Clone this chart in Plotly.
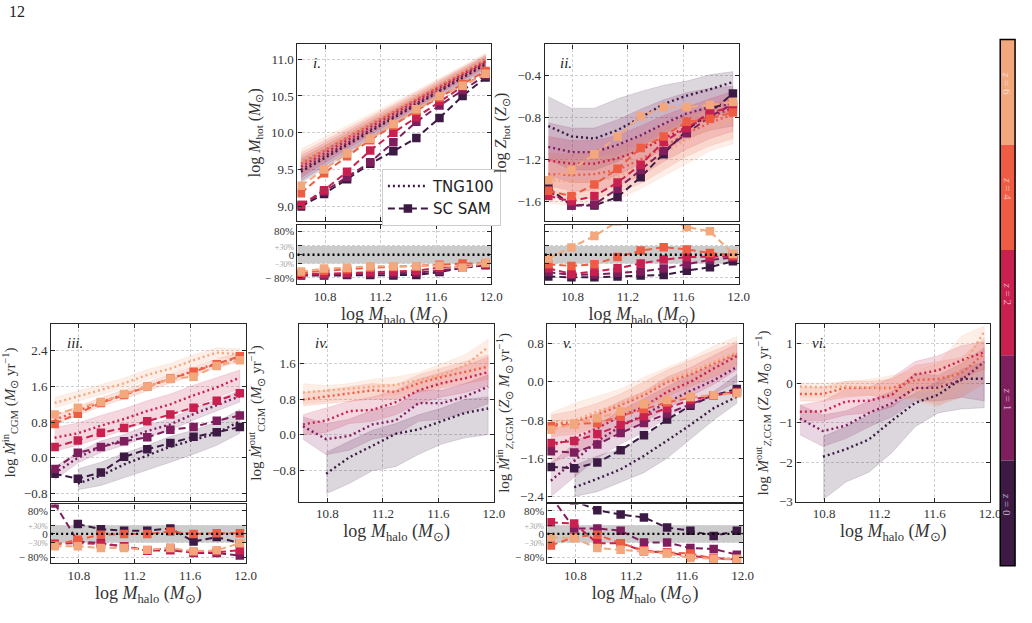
import plotly.graph_objects as go

# ---------------- data ----------------
REDSHIFTS = [0, 1, 2, 4, 6]
COLORS = {0: "#3d1a44", 1: "#7f1e5c", 2: "#c8204f", 4: "#ee5c43", 6: "#f3a77d"}
LOG_MHALO = [10.625, 10.792, 10.958, 11.125, 11.292, 11.458, 11.625, 11.792, 11.958]
X_TICKS = [10.8, 11.2, 11.6, 12.0]
RATIO_TICKS = [-0.8, -0.3, 0.0, 0.3, 0.8]

# panel i : log M_hot
MHOT_TNG = {
    0: [9.47, 9.65, 9.83, 10.01, 10.20, 10.38, 10.56, 10.75, 10.93],
    1: [9.50, 9.68, 9.86, 10.04, 10.22, 10.40, 10.58, 10.77, 10.95],
    2: [9.54, 9.72, 9.90, 10.08, 10.25, 10.43, 10.61, 10.79, 10.97],
    4: [9.58, 9.76, 9.93, 10.11, 10.28, 10.46, 10.63, 10.81, 10.98],
    6: [9.62, 9.80, 9.97, 10.14, 10.31, 10.48, 10.65, 10.83, 11.00]}
MHOT_LO = {
    0: [9.32, 9.52, 9.71, 9.90, 10.10, 10.29, 10.48, 10.67, 10.85],
    1: [9.35, 9.55, 9.74, 9.93, 10.12, 10.31, 10.50, 10.69, 10.87],
    2: [9.39, 9.59, 9.78, 9.97, 10.15, 10.34, 10.53, 10.71, 10.89],
    4: [9.43, 9.63, 9.81, 10.00, 10.18, 10.37, 10.55, 10.73, 10.90],
    6: [9.47, 9.67, 9.85, 10.03, 10.21, 10.39, 10.57, 10.75, 10.92]}
MHOT_HI = {
    0: [9.62, 9.78, 9.95, 10.12, 10.30, 10.47, 10.65, 10.83, 11.01],
    1: [9.65, 9.81, 9.98, 10.15, 10.32, 10.49, 10.67, 10.85, 11.03],
    2: [9.69, 9.85, 10.02, 10.19, 10.35, 10.52, 10.70, 10.87, 11.05],
    4: [9.73, 9.89, 10.05, 10.22, 10.38, 10.55, 10.72, 10.89, 11.06],
    6: [9.78, 9.93, 10.09, 10.25, 10.41, 10.57, 10.74, 10.91, 11.08]}
MHOT_SAM = {
    0: [9.00, 9.17, 9.37, 9.58, 9.75, 9.93, 10.20, 10.50, 10.75],
    1: [9.02, 9.20, 9.40, 9.60, 9.87, 10.15, 10.37, 10.58, 10.78],
    2: [9.02, 9.22, 9.47, 9.76, 10.00, 10.21, 10.43, 10.63, 10.82],
    4: [9.18, 9.45, 9.68, 9.90, 10.10, 10.30, 10.48, 10.66, 10.84],
    6: [9.28, 9.50, 9.72, 9.92, 10.12, 10.32, 10.50, 10.64, 10.80]}
MHOT_RATIO = {
    0: [-0.72, -0.72, -0.70, -0.70, -0.72, -0.70, -0.60, -0.45, -0.36],
    1: [-0.70, -0.70, -0.67, -0.65, -0.65, -0.62, -0.55, -0.45, -0.35],
    2: [-0.68, -0.66, -0.62, -0.60, -0.58, -0.55, -0.45, -0.40, -0.33],
    4: [-0.62, -0.55, -0.50, -0.45, -0.42, -0.40, -0.35, -0.30, -0.30],
    6: [-0.58, -0.48, -0.45, -0.40, -0.40, -0.40, -0.38, -0.45, -0.28]}

# panel ii : log Z_hot
ZHOT_TNG = {
    0: [-0.88, -0.98, -1.00, -0.92, -0.80, -0.67, -0.59, -0.53, -0.46],
    1: [-1.08, -1.13, -1.13, -1.06, -0.97, -0.86, -0.76, -0.70, -0.67],
    2: [-1.21, -1.24, -1.24, -1.19, -1.11, -1.00, -0.89, -0.79, -0.71],
    4: [-1.34, -1.35, -1.34, -1.30, -1.20, -1.08, -0.95, -0.85, -0.77],
    6: [-1.40, -1.41, -1.40, -1.37, -1.26, -1.14, -1.01, -0.90, -0.82]}
ZHOT_LO = {
    0: [-1.20, -1.30, -1.30, -1.22, -1.08, -0.95, -0.86, -0.80, -0.74],
    1: [-1.35, -1.42, -1.42, -1.35, -1.24, -1.10, -1.00, -0.92, -0.88],
    2: [-1.45, -1.50, -1.50, -1.45, -1.36, -1.22, -1.10, -1.00, -0.93],
    4: [-1.55, -1.58, -1.57, -1.52, -1.43, -1.30, -1.17, -1.07, -1.00],
    6: [-1.62, -1.64, -1.62, -1.58, -1.48, -1.36, -1.24, -1.12, -1.05]}
ZHOT_HI = {
    0: [-0.60, -0.71, -0.71, -0.62, -0.55, -0.49, -0.45, -0.39, -0.36],
    1: [-0.85, -0.90, -0.90, -0.82, -0.72, -0.63, -0.56, -0.52, -0.50],
    2: [-0.98, -1.02, -1.02, -0.97, -0.88, -0.78, -0.70, -0.62, -0.55],
    4: [-1.14, -1.15, -1.13, -1.08, -0.99, -0.88, -0.77, -0.68, -0.60],
    6: [-1.20, -1.20, -1.18, -1.16, -1.06, -0.94, -0.82, -0.72, -0.65]}
ZHOT_SAM = {
    0: [-1.47, -1.64, -1.64, -1.56, -1.37, -1.15, -0.92, -0.75, -0.57],
    1: [-1.50, -1.64, -1.63, -1.48, -1.30, -1.12, -0.95, -0.79, -0.67],
    2: [-1.55, -1.60, -1.55, -1.42, -1.25, -1.03, -0.90, -0.75, -0.70],
    4: [-1.50, -1.55, -1.44, -1.29, -1.09, -0.98, -0.84, -0.81, -0.75],
    6: [-1.40, -1.30, -1.15, -0.98, -0.79, -0.70, -0.70, -0.68, -0.65]}
ZHOT_RATIO = {
    0: [-0.75, -0.78, -0.78, -0.75, -0.72, -0.70, -0.55, -0.43, -0.23],
    1: [-0.60, -0.70, -0.68, -0.62, -0.58, -0.48, -0.33, -0.18, -0.10],
    2: [-0.47, -0.66, -0.58, -0.47, -0.30, -0.17, -0.08, -0.08, -0.06],
    4: [-0.33, -0.39, -0.33, -0.08, 0.14, 0.26, 0.18, 0.06, -0.02],
    6: [-0.13, 0.25, 0.64, 1.15, 1.40, 1.30, 0.95, 0.81, 0.03]}

# panel iii : log Mdot_in CGM
MIN_TNG = {
    0: [None, -0.58, -0.40, -0.15, 0.05, 0.25, 0.40, 0.55, 0.82],
    1: [-0.35, 0.00, 0.25, 0.40, 0.60, 0.75, 0.98, 1.18, 1.38],
    2: [0.45, 0.55, 0.72, 0.87, 1.05, 1.20, 1.40, 1.58, 1.80],
    4: [0.85, 1.05, 1.25, 1.42, 1.60, 1.78, 1.95, 2.12, 2.25],
    6: [1.23, 1.38, 1.52, 1.67, 1.86, 2.00, 2.19, 2.36, 2.32]}
MIN_LO = {
    0: [None, -0.72, -0.62, -0.45, -0.28, -0.10, 0.08, 0.28, 0.55],
    1: [-0.50, -0.12, 0.12, 0.28, 0.47, 0.62, 0.85, 1.05, 1.25],
    2: [0.15, 0.28, 0.45, 0.62, 0.80, 0.95, 1.15, 1.35, 1.55],
    4: [0.75, 0.95, 1.15, 1.32, 1.50, 1.68, 1.85, 2.02, 2.15],
    6: [1.12, 1.27, 1.41, 1.56, 1.75, 1.89, 2.08, 2.25, 2.21]}
MIN_HI = {
    0: [None, -0.25, -0.10, 0.10, 0.28, 0.48, 0.62, 0.80, 1.08],
    1: [-0.20, 0.12, 0.38, 0.52, 0.73, 0.88, 1.11, 1.31, 1.51],
    2: [0.68, 0.78, 0.95, 1.10, 1.28, 1.43, 1.63, 1.80, 1.97],
    4: [0.95, 1.15, 1.35, 1.52, 1.70, 1.88, 2.05, 2.22, 2.35],
    6: [1.35, 1.50, 1.64, 1.79, 1.98, 2.12, 2.31, 2.47, 2.45]}
MIN_SAM = {
    0: [-0.36, -0.47, -0.33, 0.02, 0.19, 0.33, 0.47, 0.57, 0.69],
    1: [-0.25, 0.11, 0.24, 0.37, 0.46, 0.63, 0.69, 0.83, 0.95],
    2: [0.24, 0.39, 0.56, 0.67, 0.82, 0.97, 1.12, 1.28, 1.45],
    4: [0.76, 0.99, 1.23, 1.41, 1.60, 1.78, 1.93, 2.10, 2.28],
    6: [0.97, 1.12, 1.25, 1.43, 1.60, 1.77, 1.82, 2.06, 2.19]}
MIN_RATIO = {
    0: [None, 0.34, 0.16, 0.11, 0.11, 0.19, -0.26, -0.11, -0.32],
    1: [1.05, -0.26, -0.32, -0.43, -0.57, -0.49, -0.66, -0.66, -0.75],
    2: [-0.34, -0.32, -0.35, -0.43, -0.58, -0.57, -0.64, -0.63, -0.57],
    4: [-0.38, -0.20, -0.03, 0.00, 0.00, 0.08, 0.00, 0.02, 0.02],
    6: [-0.43, -0.43, -0.49, -0.49, -0.55, -0.49, -0.60, -0.57, -0.32]}

# panel iv : log Mdot_out CGM
MOUT_TNG = {
    0: [None, -0.88, -0.51, -0.25, 0.02, 0.12, 0.30, 0.49, 0.59],
    1: [0.19, -0.10, -0.03, 0.23, 0.32, 0.71, 0.71, 0.86, 1.08],
    2: [0.23, 0.32, 0.53, 0.56, 0.73, 1.00, 1.16, 1.27, 1.41],
    4: [0.79, 0.86, 0.93, 1.00, 0.96, 1.16, 1.30, 1.41, 1.53],
    6: [0.95, 0.99, 1.03, 1.08, 1.12, 1.23, 1.34, 1.56, 1.97]}
MOUT_LO = {
    0: [None, -1.33, -1.10, -0.81, -0.72, -0.44, -0.21, -0.07, 0.00],
    1: [-0.10, -0.45, -0.35, -0.10, 0.00, 0.30, 0.35, 0.50, 0.70],
    2: [0.00, 0.05, 0.25, 0.30, 0.45, 0.70, 0.85, 0.95, 1.10],
    4: [0.65, 0.70, 0.75, 0.80, 0.80, 0.95, 1.05, 1.15, 1.25],
    6: [0.70, 0.75, 0.80, 0.85, 0.90, 1.00, 1.10, 1.30, 1.55]}
MOUT_HI = {
    0: [None, -0.40, -0.15, 0.10, 0.25, 0.45, 0.60, 0.80, 0.85],
    1: [0.40, 0.25, 0.35, 0.55, 0.65, 1.00, 1.00, 1.15, 1.35],
    2: [0.45, 0.60, 0.75, 0.85, 1.00, 1.25, 1.40, 1.55, 1.75],
    4: [0.95, 1.00, 1.08, 1.15, 1.12, 1.35, 1.50, 1.65, 1.80],
    6: [1.15, 1.10, 1.15, 1.25, 1.30, 1.40, 1.60, 1.80, 2.15]}

# panel v : log Mdot_in Z,CGM
ZIN_TNG = {
    0: [None, -2.21, -2.03, -1.83, -1.55, -1.23, -0.90, -0.55, -0.31],
    1: [-2.07, -1.66, -1.24, -0.93, -0.69, -0.43, -0.19, 0.03, 0.31],
    2: [-1.34, -1.17, -0.97, -0.72, -0.52, -0.21, 0.00, 0.28, 0.54],
    4: [-0.90, -0.83, -0.69, -0.48, -0.28, 0.00, 0.15, 0.38, 0.59],
    6: [-0.83, -0.81, -0.62, -0.45, -0.24, 0.03, 0.21, 0.41, 0.62]}
ZIN_LO = {
    0: [None, -2.40, -2.30, -2.10, -1.90, -1.60, -1.20, -0.80, -0.45],
    1: [-2.40, -2.00, -1.60, -1.30, -1.05, -0.75, -0.50, -0.25, 0.00],
    2: [-1.70, -1.50, -1.30, -1.05, -0.85, -0.55, -0.30, -0.05, 0.25],
    4: [-1.15, -1.10, -0.95, -0.75, -0.55, -0.30, -0.10, 0.10, 0.35],
    6: [-1.05, -1.05, -0.90, -0.70, -0.50, -0.25, -0.05, 0.15, 0.40]}
ZIN_HI = {
    0: [None, -1.75, -1.55, -1.40, -1.15, -0.80, -0.55, -0.20, 0.15],
    1: [-1.70, -1.30, -0.90, -0.60, -0.35, -0.10, 0.15, 0.35, 0.60],
    2: [-1.00, -0.85, -0.65, -0.40, -0.20, 0.10, 0.30, 0.55, 0.80],
    4: [-0.70, -0.60, -0.45, -0.25, 0.00, 0.25, 0.45, 0.65, 0.85],
    6: [-0.65, -0.45, -0.30, -0.15, 0.10, 0.30, 0.50, 0.75, 0.95]}
ZIN_SAM = {
    0: [-1.78, -1.81, -1.69, -1.43, -1.12, -0.79, -0.50, -0.28, -0.15],
    1: [-1.45, -1.48, -1.31, -1.07, -0.86, -0.66, -0.47, -0.28, -0.21],
    2: [-1.28, -1.24, -1.09, -0.90, -0.72, -0.55, -0.38, -0.28, -0.21],
    4: [-0.93, -0.88, -0.86, -0.72, -0.57, -0.43, -0.33, -0.28, -0.22],
    6: [-1.00, -0.88, -0.76, -0.62, -0.47, -0.38, -0.31, -0.28, -0.24]}
ZIN_RATIO = {
    0: [1.40, 1.15, 0.82, 0.67, 0.57, 0.22, 0.11, -0.07, 0.11],
    1: [1.30, 0.19, 0.19, 0.11, -0.30, -0.30, -0.49, -0.52, -0.72],
    2: [0.40, 0.36, -0.32, -0.32, -0.60, -0.64, -0.77, -0.83, -0.89],
    4: [-0.40, -0.11, -0.03, -0.32, -0.57, -0.64, -0.68, -0.85, -0.89],
    6: [-0.11, -0.15, -0.49, -0.55, -0.60, -0.68, -0.83, -0.86, -0.86]}

# panel vi : log Mdot_out Z,CGM
ZOUT_TNG = {
    0: [None, -1.86, -1.67, -1.42, -0.94, -0.50, -0.29, 0.11, 0.12],
    1: [-0.89, -1.21, -1.07, -0.75, -0.50, -0.12, -0.11, 0.08, 0.54],
    2: [-0.72, -0.71, -0.46, -0.44, -0.29, 0.22, 0.33, 0.58, 0.79],
    4: [-0.27, -0.27, -0.11, -0.11, -0.12, 0.08, 0.11, 0.25, 0.75],
    6: [-0.08, -0.10, -0.08, -0.11, -0.13, -0.19, -0.17, 0.38, 1.31]}
ZOUT_LO = {
    0: [None, -2.95, -2.50, -2.25, -1.75, -1.10, -0.75, -0.65, -0.62],
    1: [-1.30, -1.60, -1.40, -1.10, -0.85, -0.45, -0.45, -0.35, -0.45],
    2: [-0.95, -0.95, -0.80, -0.75, -0.60, -0.15, -0.05, 0.15, 0.35],
    4: [-0.45, -0.45, -0.35, -0.30, -0.40, -0.35, -0.55, -0.35, 0.00],
    6: [-0.35, -0.35, -0.30, -0.30, -0.30, -0.45, -0.60, -0.15, 0.40]}
ZOUT_HI = {
    0: [None, -1.35, -1.10, -0.80, -0.55, -0.25, 0.05, 0.35, 0.55],
    1: [-0.55, -0.80, -0.70, -0.45, -0.20, 0.25, 0.20, 0.50, 0.90],
    2: [-0.55, -0.45, -0.15, -0.10, 0.15, 0.55, 0.70, 0.95, 1.05],
    4: [-0.10, -0.10, 0.05, 0.05, 0.10, 0.45, 0.55, 0.65, 1.15],
    6: [0.00, 0.00, 0.05, 0.10, 0.20, 0.30, 0.50, 1.20, 1.45]}

# ---------------- layout helpers ----------------
W, H = 1032, 623
SERIF = "Liberation Serif"
SANS = "DejaVu Sans"
DARK = "#262626"
GRID = "#cfcfcf"
TXT = "#333333"


def xdom(a, b):
    return [a / W, b / W]


def ydom(top, bot):
    return [1 - bot / H, 1 - top / H]


def rgba(hexc, a):
    h = hexc.lstrip("#")
    return "rgba(%d,%d,%d,%.3f)" % (int(h[0:2], 16), int(h[2:4], 16), int(h[4:6], 16), a)


XT = "log <i>M</i><sub>halo</sub> (<i>M</i><sub>\u2299</sub>)"

PANELS = [
    dict(tag="i.", x=(300.7, 496.7), main=(45, 224), ratio=(228, 288), yr=[8.8, 11.2],
         yt=[9.0, 9.5, 10.0, 10.5, 11.0], ylab=["9.0", "9.5", "10.0", "10.5", "11.0"],
         title="log <i>M</i><sub>hot</sub> (<i>M</i><sub>\u2299</sub>)", tsize=16,
         tng=MHOT_TNG, lo=MHOT_LO, hi=MHOT_HI, sam=MHOT_SAM, rat=MHOT_RATIO, rlab=True),
    dict(tag="ii.", x=(550.7, 746.7), main=(45, 224), ratio=(228, 288), yr=[-1.79, -0.1],
         yt=[-1.6, -1.2, -0.8, -0.4], ylab=["\u22121.6", "\u22121.2", "\u22120.8", "\u22120.4"],
         title="log <i>Z</i><sub>hot</sub> (<i>Z</i><sub>\u2299</sub>)", tsize=16,
         tng=ZHOT_TNG, lo=ZHOT_LO, hi=ZHOT_HI, sam=ZHOT_SAM, rat=ZHOT_RATIO, rlab=False),
    dict(tag="iii.", x=(51.7, 248.3), main=(328.3, 507.5), ratio=(511, 570.7), yr=[-0.97, 3.0],
         yt=[-0.8, 0.0, 0.8, 1.6, 2.4], ylab=["\u22120.8", "0.0", "0.8", "1.6", "2.4"],
         title="log <i>\u1e40</i><sup>in</sup><sub>CGM</sub> (<i>M</i><sub>\u2299</sub> yr<sup>\u22121</sup>)", tsize=15,
         tng=MIN_TNG, lo=MIN_LO, hi=MIN_HI, sam=MIN_SAM, rat=MIN_RATIO, rlab=True),
    dict(tag="iv.", x=(302.7, 499.3), main=(328.3, 508.3), ratio=None, yr=[-1.51, 2.49],
         yt=[-0.8, 0.0, 0.8, 1.6], ylab=["\u22120.8", "0.0", "0.8", "1.6"],
         title="log <i>\u1e40</i><sup>out</sup><sub>CGM</sub> (<i>M</i><sub>\u2299</sub> yr<sup>\u22121</sup>)", tsize=15,
         tng=MOUT_TNG, lo=MOUT_LO, hi=MOUT_HI, sam=None, rat=None, rlab=False),
    dict(tag="v.", x=(553.3, 750.7), main=(328.3, 508.3), ratio=(511, 570.7), yr=[-2.51, 1.21],
         yt=[-2.4, -1.6, -0.8, 0.0, 0.8], ylab=["\u22122.4", "\u22121.6", "\u22120.8", "0.0", "0.8"],
         title="log <i>\u1e40</i><sup>in</sup><sub><i>Z</i>,CGM</sub> (<i>Z</i><sub>\u2299</sub> <i>M</i><sub>\u2299</sub> yr<sup>\u22121</sup>)", tsize=15,
         tng=ZIN_TNG, lo=ZIN_LO, hi=ZIN_HI, sam=ZIN_SAM, rat=ZIN_RATIO, rlab=True),
    dict(tag="vi.", x=(805, 1000.7), main=(328.3, 508.3), ratio=None, yr=[-3.0, 1.5],
         yt=[-3, -2, -1, 0, 1], ylab=["\u22123", "\u22122", "\u22121", "0", "1"],
         title="log <i>\u1e40</i><sup>out</sup><sub><i>Z</i>,CGM</sub> (<i>Z</i><sub>\u2299</sub> <i>M</i><sub>\u2299</sub> yr<sup>\u22121</sup>)", tsize=15,
         tng=ZOUT_TNG, lo=ZOUT_LO, hi=ZOUT_HI, sam=None, rat=None, rlab=False),
]

fig = go.Figure()
layout = dict(width=W, height=H, margin=dict(l=0, r=0, t=0, b=0),
              paper_bgcolor="white", plot_bgcolor="white", showlegend=True)
shapes, annotations = [], []

axis_base = dict(showline=True, linecolor=DARK, linewidth=1.2, mirror="allticks",
                 ticks="inside", ticklen=4, tickwidth=1, tickcolor=DARK,
                 showgrid=True, gridcolor=GRID, griddash="3px,2px", gridwidth=0.8,
                 zeroline=False, tickfont=dict(family=SERIF, size=13, color=TXT))

RATIO_TEXT = ["\u2212 80%",
              "<span style='font-size:8px;color:#a0a0a0'><i>\u221230%</i></span>",
              "0",
              "<span style='font-size:8px;color:#a0a0a0'><i>+30%</i></span>",
              "80%"]


def clean(xs, ys):
    pts = [(a, b) for a, b in zip(xs, ys) if b is not None]
    return [q[0] for q in pts], [q[1] for q in pts]


DOT = dict(width=2.4, dash="2px,3px")
DASH = dict(width=2.0, dash="7px,4px")

n = 0
for p in PANELS:
    n += 1
    mx, my = ("x%d" % n if n > 1 else "x"), ("y%d" % n if n > 1 else "y")
    has_ratio = p["ratio"] is not None
    xa = dict(axis_base, domain=xdom(*p["x"]), range=[10.6, 12.0], tickvals=X_TICKS,
              ticktext=["10.8", "11.2", "11.6", "12.0"], anchor=my,
              showticklabels=not has_ratio)
    if not has_ratio:
        xa["title"] = dict(text=XT, font=dict(family=SERIF, size=18, color=TXT), standoff=3)
    ya = dict(axis_base, domain=ydom(*p["main"]), range=p["yr"], tickvals=p["yt"],
              ticktext=p["ylab"], anchor=mx,
              title=dict(text=p["title"], font=dict(family=SERIF, size=p["tsize"], color=TXT), standoff=6))
    layout["xaxis%s" % ("" if n == 1 else n)] = xa
    layout["yaxis%s" % ("" if n == 1 else n)] = ya

    for z in REDSHIFTS:
        xl, lo = clean(LOG_MHALO, p["lo"][z])
        xh, hi = clean(LOG_MHALO, p["hi"][z])
        fig.add_trace(go.Scatter(x=xl + xh[::-1], y=lo + hi[::-1], fill="toself",
                                 fillcolor=rgba(COLORS[z], 0.18), line=dict(width=0.6, color=rgba(COLORS[z], 0.22)),
                                 mode="lines", xaxis=mx, yaxis=my, showlegend=False, hoverinfo="skip"))
    for z in REDSHIFTS:
        xs, ys = clean(LOG_MHALO, p["tng"][z])
        fig.add_trace(go.Scatter(x=xs, y=ys, mode="lines", line=dict(DOT, color=COLORS[z]),
                                 xaxis=mx, yaxis=my, name="TNG100",
                                 showlegend=(n == 1 and z == 0), legendrank=1, hoverinfo="skip"))
    if p["sam"] is not None:
        for z in REDSHIFTS:
            fig.add_trace(go.Scatter(x=LOG_MHALO, y=p["sam"][z], mode="lines+markers",
                                     line=dict(DASH, color=COLORS[z]),
                                     marker=dict(symbol="square", size=8.5, color=COLORS[z]),
                                     xaxis=mx, yaxis=my, name="SC SAM",
                                     showlegend=(n == 1 and z == 0), legendrank=2, hoverinfo="skip"))
    annotations.append(dict(text="<i>%s</i>" % p["tag"], xref="%s domain" % mx, yref="%s domain" % my,
                            x=0.07, y=0.95, xanchor="left", yanchor="top", showarrow=False,
                            font=dict(family=SERIF, size=15, color="#222222")))

    if has_ratio:
        n += 1
        rx, ry = "x%d" % n, "y%d" % n
        layout["xaxis%d" % n] = dict(axis_base, domain=xdom(*p["x"]), range=[10.6, 12.0], tickvals=X_TICKS,
                                     ticktext=["10.8", "11.2", "11.6", "12.0"], anchor=ry,
                                     title=dict(text=XT, font=dict(family=SERIF, size=18, color=TXT), standoff=3))
        layout["yaxis%d" % n] = dict(axis_base, domain=ydom(*p["ratio"]), range=[-1.02, 1.02],
                                     tickvals=RATIO_TICKS, ticktext=RATIO_TEXT, anchor=rx,
                                     showticklabels=p["rlab"], tickfont=dict(family=SERIF, size=11, color=TXT))
        shapes.append(dict(type="rect", xref="%s domain" % rx, yref=ry, x0=0, x1=1, y0=-0.3, y1=0.3,
                           fillcolor="rgba(140,140,140,0.45)", line=dict(width=0), layer="below"))
        shapes.append(dict(type="line", xref="%s domain" % rx, yref=ry, x0=0, x1=1, y0=0, y1=0,
                           line=dict(color="black", width=2.4, dash="2px,3px")))
        for z in REDSHIFTS:
            xs, ys = clean(LOG_MHALO, p["rat"][z])
            fig.add_trace(go.Scatter(x=xs, y=ys, mode="lines+markers",
                                     line=dict(DASH, color=COLORS[z]),
                                     marker=dict(symbol="square", size=8.5, color=COLORS[z]),
                                     xaxis=rx, yaxis=ry, showlegend=False, hoverinfo="skip", cliponaxis=True))

# colour bar
CB_LABELS = [6, 4, 2, 1, 0]
cb_top, cb_bot, cb_l, cb_r = 40, 573, 1011, 1026
seg = (cb_bot - cb_top) / len(CB_LABELS)
for i, z in enumerate(CB_LABELS):
    t = cb_top + i * seg
    b = t + seg
    shapes.append(dict(type="rect", xref="paper", yref="paper", x0=cb_l / W, x1=cb_r / W,
                       y0=1 - b / H, y1=1 - t / H, fillcolor=COLORS[z], line=dict(width=0)))
    annotations.append(dict(text="<i>z</i> = %d" % z, xref="paper", yref="paper",
                            x=(cb_l + cb_r) / 2 / W, y=1 - (t + seg * 0.42) / H, textangle=90,
                            xanchor="center", yanchor="middle",
                            showarrow=False, font=dict(family=SERIF, size=11, color="rgba(255,255,255,0.65)")))
shapes.append(dict(type="rect", xref="paper", yref="paper", x0=cb_l / W, x1=cb_r / W,
                   y0=1 - cb_bot / H, y1=1 - cb_top / H, line=dict(color="black", width=1.5)))

annotations.append(dict(text="12", xref="paper", yref="paper", x=7 / W, y=1 - 12 / H, xanchor="left",
                        yanchor="middle", showarrow=False, font=dict(family=SERIF, size=16, color="#222222")))

layout["shapes"] = shapes
layout["annotations"] = annotations
layout["legend"] = dict(x=386 / W, y=1 - 171 / H, xanchor="left", yanchor="top", bgcolor="white",
                        bordercolor="#cccccc", borderwidth=1, font=dict(family=SANS, size=15, color="#222222"),
                        itemwidth=40, tracegroupgap=2)
fig.update_layout(**layout)
fig.write_html("out.html")
